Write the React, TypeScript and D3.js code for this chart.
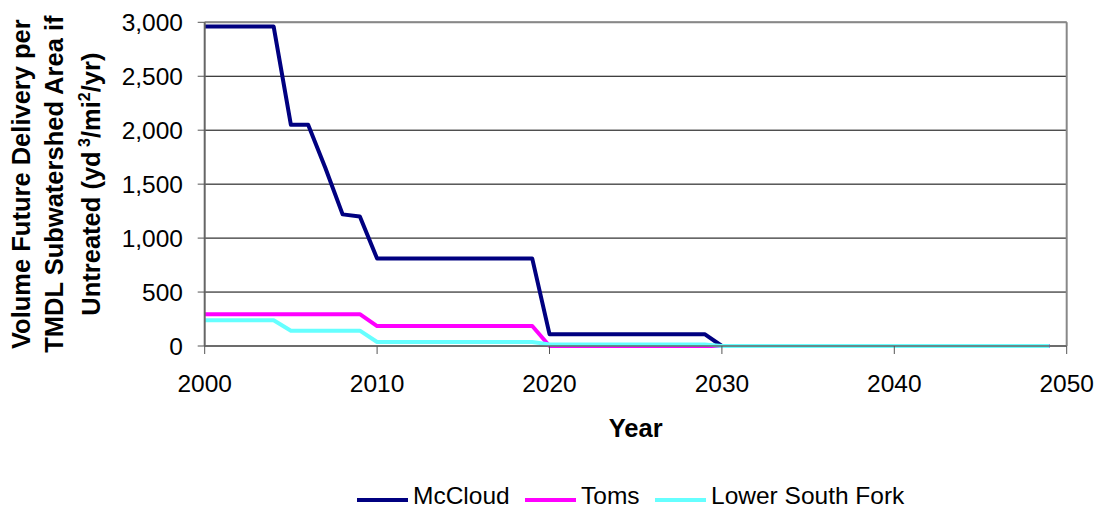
import React from "react";
import * as d3 from "d3";

const years: number[] = d3.range(2000, 2050);

const mcCloud: number[] = [
  2960, 2960, 2960, 2960, 2960, 2050, 2050, 1650, 1220, 1200,
  810, 810, 810, 810, 810, 810, 810, 810, 810, 810,
  110, 110, 110, 110, 110, 110, 110, 110, 110, 110,
  0, 0, 0, 0, 0, 0, 0, 0, 0, 0,
  0, 0, 0, 0, 0, 0, 0, 0, 0, 0,
];
const toms: number[] = [
  295, 295, 295, 295, 295, 295, 295, 295, 295, 295,
  185, 185, 185, 185, 185, 185, 185, 185, 185, 185,
  0, 0, 0, 0, 0, 0, 0, 0, 0, 0,
  0, 0, 0, 0, 0, 0, 0, 0, 0, 0,
  0, 0, 0, 0, 0, 0, 0, 0, 0, 0,
];
const lowerSouthFork: number[] = [
  238, 238, 238, 238, 238, 142, 142, 142, 142, 142,
  37, 37, 37, 37, 37, 37, 37, 37, 37, 37,
  15, 15, 15, 15, 15, 15, 15, 15, 15, 15,
  0, 0, 0, 0, 0, 0, 0, 0, 0, 0,
  0, 0, 0, 0, 0, 0, 0, 0, 0, 0,
];

const seriesNames = ["McCloud", "Toms", "Lower South Fork"];
const seriesColors = ["#000080", "#FF00FF", "#66FFFF"];
const seriesValues = [mcCloud, toms, lowerSouthFork];

const xTicks = [2000, 2010, 2020, 2030, 2040, 2050];
const yTicks = [0, 500, 1000, 1500, 2000, 2500, 3000];

const W = 1097;
const H = 510;
const left = 204.7;
const right = 1066.7;
const top = 22.3;
const bottom = 346;

const FONT = "'Liberation Sans', Arial, Helvetica, sans-serif";

export default function App() {
  const x = d3.scaleLinear().domain([2000, 2050]).range([left, right]);
  const y = d3.scaleLinear().domain([0, 3000]).range([bottom, top]);
  const line = d3
    .line<[number, number]>()
    .x((d) => x(d[0]))
    .y((d) => y(d[1]));
  const fmt = d3.format(",");

  const legendItems = [
    { sx: 357, tx: 413 },
    { sx: 525, tx: 581 },
    { sx: 655, tx: 711 },
  ];

  return (
    <svg
      width={W}
      height={H}
      style={{ position: "absolute", left: 0, top: 0, background: "#fff" }}
      fontFamily={FONT}
    >
      {/* gridlines */}
      {yTicks.map((t) => (
        <line
          key={"g" + t}
          x1={left}
          x2={right}
          y1={y(t)}
          y2={y(t)}
          stroke="#000"
          strokeWidth={1}
        />
      ))}
      {/* plot border top/right */}
      <line x1={left} x2={right} y1={top} y2={top} stroke="#888" strokeWidth={2} />
      <line x1={right} x2={right} y1={top} y2={bottom} stroke="#888" strokeWidth={2} />
      {/* series */}
      {seriesValues.map((vals, i) => (
        <path
          key={seriesNames[i]}
          d={line(years.map((yr, j) => [yr, vals[j]] as [number, number])) || ""}
          fill="none"
          stroke={seriesColors[i]}
          strokeWidth={4}
          strokeLinejoin="round"
        />
      ))}
      {/* axes */}
      <line x1={left} x2={left} y1={top} y2={bottom} stroke="#666" strokeWidth={2} />
      <line x1={left} x2={right} y1={bottom} y2={bottom} stroke="#666" strokeWidth={1.5} />
      {yTicks.map((t) => (
        <g key={"yt" + t}>
          <line x1={left - 7} x2={left} y1={y(t)} y2={y(t)} stroke="#555" strokeWidth={1} />
          <text
            x={183}
            y={y(t)}
            dy="0.35em"
            textAnchor="end"
            fontSize={24.5}
            fill="#000"
          >
            {fmt(t)}
          </text>
        </g>
      ))}
      {xTicks.map((t) => (
        <g key={"xt" + t}>
          <line x1={x(t)} x2={x(t)} y1={bottom} y2={bottom + 8} stroke="#555" strokeWidth={1} />
          <text x={x(t)} y={391.5} textAnchor="middle" fontSize={24.5} fill="#000">
            {t}
          </text>
        </g>
      ))}
      {/* axis titles */}
      <text
        x={(left + right) / 2}
        y={437}
        textAnchor="middle"
        fontSize={25.5}
        fontWeight="bold"
      >
        Year
      </text>
      <g transform={`translate(0, ${(top + bottom) / 2})`}>
        <text transform="translate(30,0) rotate(-90)" textAnchor="middle" fontSize={25.5} fontWeight="bold">
          Volume Future Delivery per
        </text>
        <text transform="translate(63,0) rotate(-90)" textAnchor="middle" fontSize={25.5} fontWeight="bold">
          TMDL Subwatershed Area if
        </text>
        <text transform="translate(100,0) rotate(-90)" textAnchor="middle" fontSize={25.5} fontWeight="bold">
          Untreated (yd
          <tspan fontSize={16} dy={-10}> 3</tspan>
          <tspan dy={10}>/mi</tspan>
          <tspan fontSize={16} dy={-10}>2</tspan>
          <tspan dy={10}>/yr)</tspan>
        </text>
      </g>
      {/* legend */}
      {legendItems.map((it, i) => (
        <g key={"l" + i}>
          <line
            x1={it.sx}
            x2={it.sx + 51}
            y1={500}
            y2={500}
            stroke={seriesColors[i]}
            strokeWidth={4}
          />
          <text x={it.tx} y={504} fontSize={24.5} fill="#000">
            {seriesNames[i]}
          </text>
        </g>
      ))}
    </svg>
  );
}
